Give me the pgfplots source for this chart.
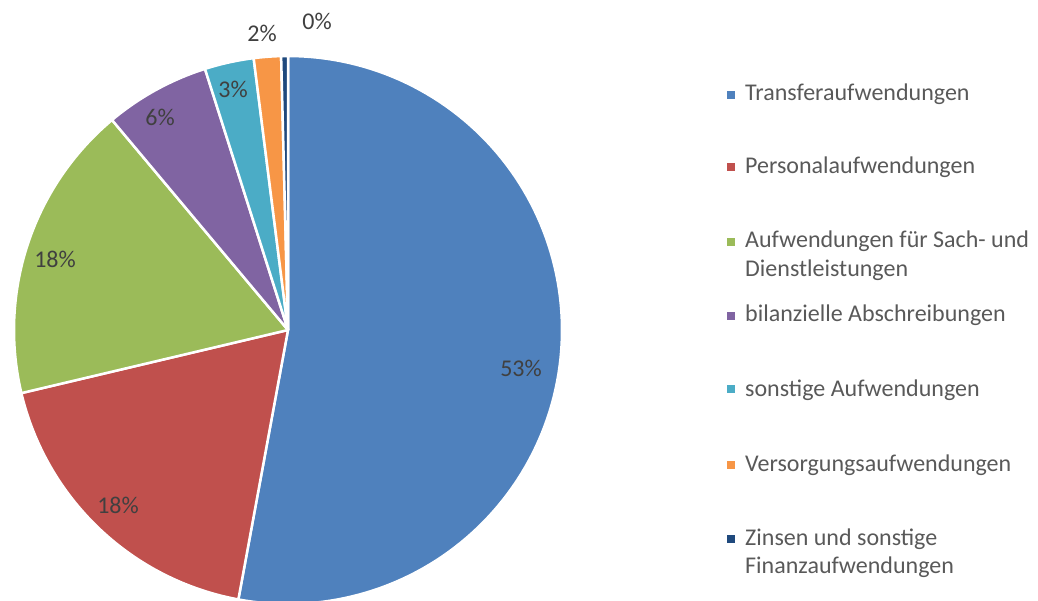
\documentclass[border=0pt]{standalone}
\usepackage{pgfplots}
\pgfplotsset{compat=1.18}
\usepackage{pgfplotstable}
\usepackage{fontspec}
\setmainfont{Carlito}
\definecolor{cA}{HTML}{4F81BD}
\definecolor{cB}{HTML}{C0504D}
\definecolor{cC}{HTML}{9BBB59}
\definecolor{cD}{HTML}{8064A2}
\definecolor{cE}{HTML}{4BACC6}
\definecolor{cF}{HTML}{F79646}
\definecolor{cG}{HTML}{1F497D}
\definecolor{lbl}{HTML}{404040}
\definecolor{leg}{HTML}{595959}

\pgfplotstableread{
idx value
0 52.9
1 18.4
2 17.6
3 6.2
4 2.9
5 1.6
6 0.4
}\piedata

\begin{document}%
\begin{tikzpicture}
% cumulative angles (degrees, clockwise from 12 o'clock)
\pgfplotstablegetelem{0}{value}\of\piedata \let\vA\pgfplotsretval
\pgfplotstablegetelem{1}{value}\of\piedata \let\vB\pgfplotsretval
\pgfplotstablegetelem{2}{value}\of\piedata \let\vC\pgfplotsretval
\pgfplotstablegetelem{3}{value}\of\piedata \let\vD\pgfplotsretval
\pgfplotstablegetelem{4}{value}\of\piedata \let\vE\pgfplotsretval
\pgfplotstablegetelem{5}{value}\of\piedata \let\vF\pgfplotsretval
\pgfplotstablegetelem{6}{value}\of\piedata \let\vG\pgfplotsretval
\pgfmathsetmacro\aA{0}
\pgfmathsetmacro\aB{\aA+3.6*\vA}
\pgfmathsetmacro\aC{\aB+3.6*\vB}
\pgfmathsetmacro\aD{\aC+3.6*\vC}
\pgfmathsetmacro\aE{\aD+3.6*\vD}
\pgfmathsetmacro\aF{\aE+3.6*\vE}
\pgfmathsetmacro\aG{\aF+3.6*\vF}
\pgfmathsetmacro\aH{\aG+3.6*\vG}
\def\cx{288}
\def\cy{270}
\def\rr{274}
\begin{axis}[
  at={(0,0)}, anchor=south west,
  width=1038pt, height=600pt, scale only axis,
  xmin=0, xmax=1038, ymin=0, ymax=600,
  hide axis, clip=true,
  every axis plot/.append style={draw=white, line width=2.5pt, line join=round, samples=120, variable=\t, no markers},
]
\addplot[fill=cA, domain=\aA:\aB] ({\cx+\rr*sin(\t)},{\cy+\rr*cos(\t)}) -- (axis cs:\cx,\cy) -- cycle;
\addplot[fill=cB, domain=\aB:\aC] ({\cx+\rr*sin(\t)},{\cy+\rr*cos(\t)}) -- (axis cs:\cx,\cy) -- cycle;
\addplot[fill=cC, domain=\aC:\aD] ({\cx+\rr*sin(\t)},{\cy+\rr*cos(\t)}) -- (axis cs:\cx,\cy) -- cycle;
\addplot[fill=cD, domain=\aD:\aE] ({\cx+\rr*sin(\t)},{\cy+\rr*cos(\t)}) -- (axis cs:\cx,\cy) -- cycle;
\addplot[fill=cE, domain=\aE:\aF] ({\cx+\rr*sin(\t)},{\cy+\rr*cos(\t)}) -- (axis cs:\cx,\cy) -- cycle;
\addplot[fill=cF, domain=\aF:\aG] ({\cx+\rr*sin(\t)},{\cy+\rr*cos(\t)}) -- (axis cs:\cx,\cy) -- cycle;
\addplot[fill=cG, domain=\aG:\aH] ({\cx+\rr*sin(\t)},{\cy+\rr*cos(\t)}) -- (axis cs:\cx,\cy) -- cycle;

% data labels
\begin{scope}[every node/.style={font=\fontsize{24}{29}\selectfont, text=lbl, inner sep=0pt}]
\node at (axis cs:521,232) {53\%};
\node at (axis cs:118,95) {18\%};
\node at (axis cs:55,340.5) {18\%};
\node at (axis cs:160,483) {6\%};
\node at (axis cs:233,511) {3\%};
\node at (axis cs:262,567) {2\%};
\node at (axis cs:317,579) {0\%};
\end{scope}

% legend
\fill[cA] (axis cs:727,501) rectangle (axis cs:735,509);
\fill[cB] (axis cs:727,429) rectangle (axis cs:735,437);
\fill[cC] (axis cs:727,354) rectangle (axis cs:735,362);
\fill[cD] (axis cs:727,280) rectangle (axis cs:735,288);
\fill[cE] (axis cs:727,207) rectangle (axis cs:735,215);
\fill[cF] (axis cs:727,131) rectangle (axis cs:735,139);
\fill[cG] (axis cs:727,57) rectangle (axis cs:735,65);
\begin{scope}[every node/.style={font=\fontsize{24}{29}\selectfont, text=leg, inner sep=0pt, anchor=base west}]
\node at (axis cs:745,499) {Transferaufwendungen};
\node at (axis cs:745,426) {Personalaufwendungen};
\node at (axis cs:745,352) {Aufwendungen für Sach- und};
\node at (axis cs:745,323) {Dienstleistungen};
\node at (axis cs:745,278) {bilanzielle Abschreibungen};
\node at (axis cs:745,204) {sonstige Aufwendungen};
\node at (axis cs:745,129) {Versorgungsaufwendungen};
\node at (axis cs:745,55) {Zinsen und sonstige};
\node at (axis cs:745,27) {Finanzaufwendungen};
\end{scope}
\end{axis}
\pgfresetboundingbox
\path (0,0) rectangle (1038pt,600pt);
\end{tikzpicture}%
\end{document}
